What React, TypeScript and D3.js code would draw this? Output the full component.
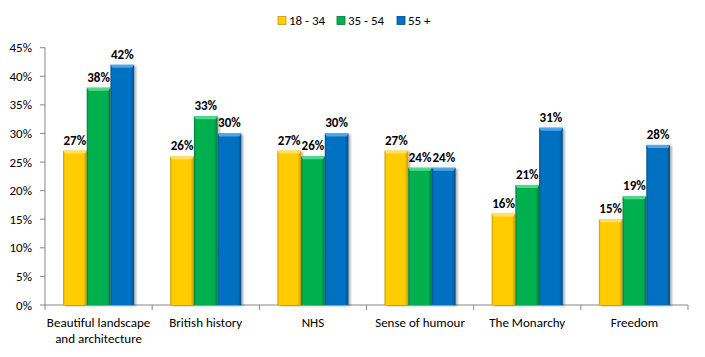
import React from "react";
import * as d3 from "d3";

const categories = [
  ["Beautiful landscape", "and architecture"],
  ["British history"],
  ["NHS"],
  ["Sense of humour"],
  ["The Monarchy"],
  ["Freedom"],
];
const seriesNames = ["18 - 34", "35 - 54", "55 +"];
const age18to34 = [27, 26, 27, 27, 16, 15];
const age35to54 = [38, 33, 26, 24, 21, 19];
const age55plus = [42, 30, 30, 24, 31, 28];
const yTicks = [0, 5, 10, 15, 20, 25, 30, 35, 40, 45];
const colors = ["#FFCC00", "#00B050", "#0070C0"];
const darkColors = ["#C89A00", "#007A38", "#004F8A"];
const lightColors = ["#FFE066", "#4FD98A", "#4FA6E6"];

export default function App() {
  const W = 705, H = 357;
  const left = 45, right = 688, top = 47.7, bottom = 305;
  const series = [age18to34, age35to54, age55plus];
  const x = d3.scaleBand<number>().domain(d3.range(categories.length)).range([left, right]).paddingInner(0).paddingOuter(0);
  const inner = d3.scaleBand<number>().domain([0, 1, 2]).range([0, x.bandwidth()]).paddingInner(0).paddingOuter(0.76);
  const y = d3.scaleLinear().domain([0, 45]).range([bottom, top]);
  const font = "Carlito, 'Open Sans', 'DejaVu Sans', sans-serif";
  const legendX = [278, 337, 397];
  return (
    <svg width={W} height={H} style={{ position: "absolute", left: 0, top: 0 }} fontFamily={font}>
      <defs>
        {colors.map((c, i) => (
          <linearGradient key={i} id={`g${i}`} x1="0" x2="1" y1="0" y2="0">
            <stop offset="0" stopColor={darkColors[i]} />
            <stop offset="0.08" stopColor={c} />
            <stop offset="0.85" stopColor={c} />
            <stop offset="1" stopColor={darkColors[i]} />
          </linearGradient>
        ))}
        <filter id="sh" x="-20%" y="-5%" width="150%" height="115%">
          <feDropShadow dx="2" dy="1" stdDeviation="1.2" floodColor="#000" floodOpacity="0.3" />
        </filter>
      </defs>
      {/* y axis */}
      <line x1={left} x2={left} y1={top} y2={bottom} stroke="#868686" />
      {yTicks.map((t) => (
        <g key={t}>
          <line x1={left - 5} x2={left} y1={y(t)} y2={y(t)} stroke="#868686" />
          <text x={32} y={y(t)} dy="0.35em" textAnchor="end" fontSize={13} fill="#000">{t}%</text>
        </g>
      ))}
      {/* x axis */}
      <line x1={left} x2={right} y1={bottom} y2={bottom} stroke="#868686" />
      {d3.range(categories.length + 1).map((i) => {
        const xx = left + i * x.bandwidth();
        return <line key={i} x1={xx} x2={xx} y1={bottom} y2={bottom + 5} stroke="#868686" />;
      })}
      {categories.map((lines, ci) => (
        <text key={ci} x={(x(ci) as number) + x.bandwidth() / 2} y={327} textAnchor="middle" fontSize={13} fill="#000">
          {lines.map((l, li) => (
            <tspan key={li} x={(x(ci) as number) + x.bandwidth() / 2} dy={li === 0 ? 0 : 16}>{l}</tspan>
          ))}
        </text>
      ))}
      {/* bars */}
      {series.map((vals, si) =>
        vals.map((v, ci) => {
          const bx = (x(ci) as number) + (inner(si) as number);
          const bw = inner.bandwidth();
          const by = y(v);
          const bh = bottom - by;
          return (
            <g key={`${si}-${ci}`}>
              <rect x={bx} y={by} width={bw} height={bh} fill={`url(#g${si})`} filter="url(#sh)" />
              <path d={`M${bx},${by} L${bx + bw},${by} L${bx + bw - 2},${by + 3} L${bx + 2},${by + 3} Z`} fill={lightColors[si]} />
              <text x={bx + bw / 2} y={by - 6} textAnchor="middle" fontSize={13} fontWeight="bold" fill="#000">{v}%</text>
            </g>
          );
        })
      )}
      {/* legend */}
      {seriesNames.map((n, i) => (
        <g key={n}>
          <rect x={legendX[i]} y={16.5} width={8} height={8} fill={colors[i]} stroke={darkColors[i]} strokeWidth={0.8} />
          <text x={legendX[i] + 11} y={20.5} dy="0.35em" fontSize={13} fill="#000">{n}</text>
        </g>
      ))}
    </svg>
  );
}
